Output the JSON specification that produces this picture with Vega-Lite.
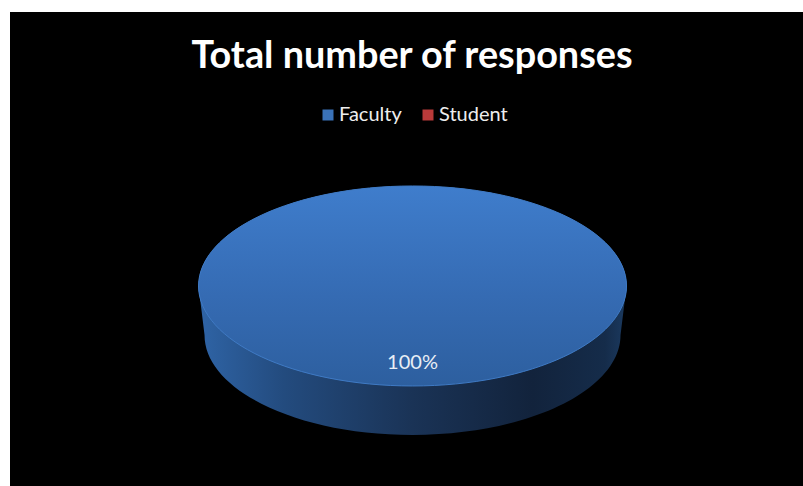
{
  "$schema": "https://vega.github.io/schema/vega-lite/v6.json",
  "width": 793,
  "height": 474,
  "autosize": {"type": "none"},
  "padding": {"left": 10, "top": 12, "right": 0, "bottom": 0},
  "background": "white",
  "view": {"fill": "black", "stroke": null},
  "title": {
    "text": "Total number of responses",
    "font": "Lato",
    "fontSize": 37.8,
    "fontWeight": "bold",
    "color": "white",
    "anchor": "middle",
    "frame": "group",
    "baseline": "alphabetic",
    "offset": -56,
    "dy": 38,
    "dx": 5.5
  },
  "data": {"values": [
    {"category": "Faculty", "value": 100, "label": "100%"},
    {"category": "Student", "value": 0, "label": ""}
  ]},
  "transform": [{"filter": "datum.value > 0"}],
  "encoding": {
    "x": {"datum": 0, "type": "quantitative", "scale": {"domain": [-1.0152, 0.9848]}, "axis": null},
    "y": {"datum": 0, "type": "quantitative", "scale": {"domain": [-0.844, 1.156]}, "axis": null}
  },
  "layer": [
    {
      "mark": {"type": "point", "filled": true, "opacity": 1, "size": 4, "shape": "M-214,0 A214,100 0 1 1 214,0 A214,100 0 1 1 -214,0 Z"},
      "encoding": {
        "color": {
          "field": "category",
          "type": "nominal",
          "scale": {"domain": ["Faculty", "Student"], "range": ["#3a72b8", "#b93a3a"]},
          "legend": {
            "title": null,
            "orient": "none",
            "legendX": 308,
            "legendY": 93,
            "direction": "horizontal",
            "columns": 2,
            "symbolType": "square",
            "symbolSize": 121,
            "symbolOpacity": 1,
            "labelFont": "Lato",
            "labelFontSize": 20,
            "labelColor": "#eeeeee",
            "labelOpacity": 1,
            "labelOffset": 1,
            "columnPadding": 16,
            "symbolStrokeWidth": 0
          }
        }
      }
    },
    {
      "mark": {
        "type": "point", "filled": true, "opacity": 1, "size": 4,
        "shape": "M-214,0 L-208,49 A208,100 0 0 0 208,49 L214,0 Z",
        "fill": {
          "gradient": "linear", "x1": 0, "y1": 0, "x2": 1, "y2": 0,
          "stops": [
            {"offset": 0, "color": "#2f64a6"},
            {"offset": 0.2, "color": "#234b7e"},
            {"offset": 0.5, "color": "#1a3356"},
            {"offset": 0.78, "color": "#12233c"},
            {"offset": 0.95, "color": "#152c4a"},
            {"offset": 1, "color": "#1b3a60"}
          ]
        }
      }
    },
    {
      "mark": {
        "type": "point", "filled": true, "opacity": 1, "size": 4,
        "shape": "M-214,0 A214,100 0 1 1 214,0 A214,100 0 1 1 -214,0 Z",
        "stroke": "#3f7ac4",
        "strokeWidth": 1,
        "fill": {
          "gradient": "linear", "x1": 0, "y1": 0, "x2": 0, "y2": 1,
          "stops": [
            {"offset": 0, "color": "#3f7dcc"},
            {"offset": 0.55, "color": "#356bb3"},
            {"offset": 1, "color": "#2d5f9f"}
          ]
        }
      }
    },
    {
      "mark": {"type": "text", "font": "Lato", "fontSize": 20, "color": "#e8eef5", "opacity": 1, "align": "center", "baseline": "middle"},
      "encoding": {
        "text": {"field": "label"},
        "y": {"datum": -0.325, "type": "quantitative"}
      }
    }
  ]
}
